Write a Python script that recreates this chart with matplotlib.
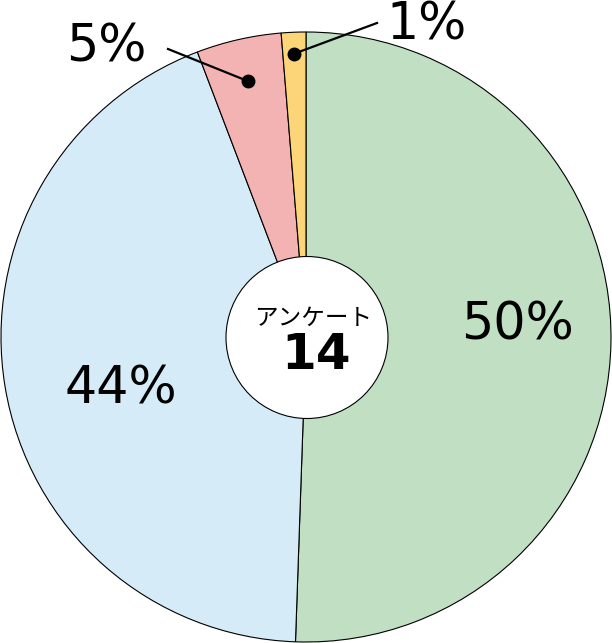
import numpy as np
import matplotlib.pyplot as plt
from matplotlib.patches import Circle

# アンケート結果 (時計回り、上から)
labels = ["50%", "44%", "5%", "1%"]
values = [50.6, 43.7, 4.5, 1.3]
colors = ["#c0dfc3", "#d5ebf8", "#f4b3b3", "#fbd577"]
center_title = "アンケート"
center_count = "14"

W, H = 612, 643
fig = plt.figure(figsize=(W / 100, H / 100), dpi=100)
ax = fig.add_axes([0, 0, 1, 1])

cx, cy, R = 306, H - 337, 305
wedges, _ = ax.pie(values, colors=colors, startangle=90, counterclock=False,
                   center=(cx, cy), radius=R,
                   wedgeprops=dict(edgecolor="black", linewidth=0.8))

ax.add_patch(Circle((307, H - 337.5), 81, facecolor="white",
                    edgecolor="black", linewidth=0.8, zorder=3))

fs = 36.5
ax.text(517, H - 325, labels[0], fontsize=fs, ha="center", va="center")
ax.text(121, H - 389, labels[1], fontsize=fs, ha="center", va="center")

# 小さい扇形には引き出し線
outside = {2: ((168, H - 49), (106, H - 48), 0.86, "center"),
           3: ((377, H - 23), (427, H - 1), 0.93, "top")}
for i, (line_end, text_pos, frac, va) in outside.items():
    w = wedges[i]
    mid = np.deg2rad((w.theta1 + w.theta2) / 2)
    dot = (cx + R * frac * np.cos(mid), cy + R * frac * np.sin(mid))
    ax.plot([dot[0], line_end[0]], [dot[1], line_end[1]], color="black", lw=1.6, zorder=4)
    ax.plot(*dot, "o", color="black", markersize=9, zorder=5)
    ax.text(*text_pos, labels[i], fontsize=fs, ha="center", va=va)

ax.text(313, H - 318, center_title, fontsize=17, family=["Noto Sans CJK JP", "DejaVu Sans"],
        ha="center", va="center", zorder=6)
ax.text(316, H - 355, center_count, fontsize=36, fontweight="bold",
        ha="center", va="center", zorder=6)

ax.set_xlim(0, W)
ax.set_ylim(0, H)
ax.set_aspect("equal")
ax.axis("off")
fig.savefig("out.png", dpi=100)
